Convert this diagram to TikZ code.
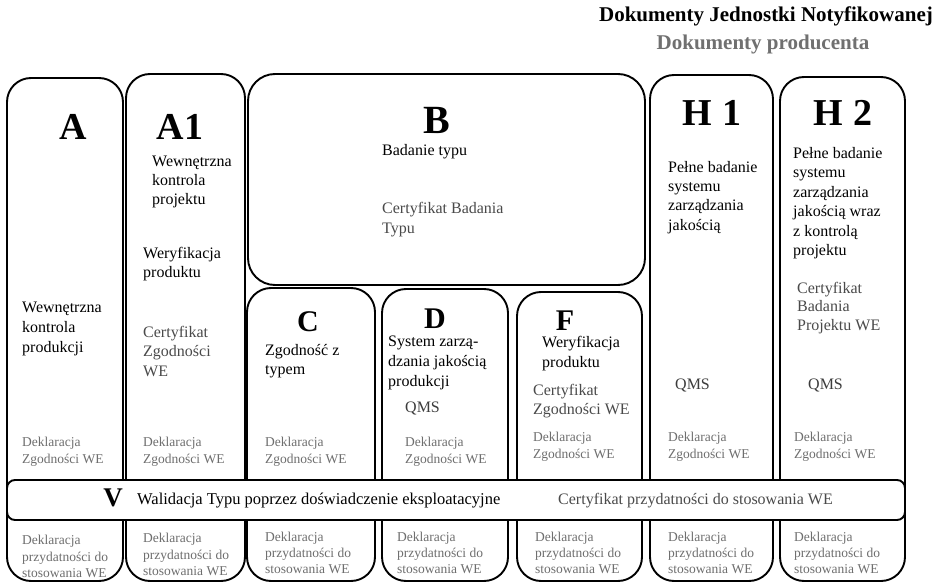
\documentclass[tikz,border=0pt]{standalone}
\usepackage{fontspec}
\setmainfont{Liberation Serif}
\definecolor{certgray}{HTML}{4A4A4A}
\definecolor{declgray}{HTML}{6E6E6E}
\definecolor{prodgray}{HTML}{707070}
\definecolor{qmsgray}{HTML}{3C3C3C}
\begin{document}
\begin{tikzpicture}[x=1pt,y=-1pt,
  colbox/.style={draw=black,line width=1.9pt,rounded corners=24pt,fill=white},
  bigl/.style={font=\fontsize{38}{40}\selectfont\bfseries,inner sep=0pt,anchor=center},
  midl/.style={font=\fontsize{30}{32}\selectfont\bfseries,inner sep=0pt,anchor=center},
  txt/.style={font=\fontsize{16}{19.5}\selectfont,align=left,anchor=north west,inner sep=0pt,yshift=6pt,text=black},
  cert/.style={txt,text=certgray},
  qms/.style={txt,text=qmsgray},
  decl/.style={font=\fontsize{13.5}{16.5}\selectfont,align=left,anchor=north west,inner sep=0pt,yshift=5pt,text=declgray},
  ttl/.style={font=\fontsize{21}{24}\selectfont\bfseries,inner sep=0pt,anchor=base}
]
\useasboundingbox[fill=white] (0,0) rectangle (940,583);

% title legend
\node[ttl,text=black] (t1) at (766,22) {Dokumenty Jednostki Notyfikowanej};
\node[ttl,text=prodgray] (t2) at (763,50) {Dokumenty producenta};

% column frames
\draw[colbox] (7,78) rectangle (123,581);
\draw[colbox] (126,74) rectangle (245,581);
\draw[colbox,rounded corners=27pt] (248,74) rectangle (645,285);
\draw[colbox] (247,288) rectangle (375,581);
\draw[colbox] (382,289) rectangle (508,581);
\draw[colbox] (517,292) rectangle (642,581);
\draw[colbox] (650,75) rectangle (773,581);
\draw[colbox] (780,77) rectangle (905,581);

% V bar
\draw[colbox,rounded corners=8pt] (7,480) rectangle (905,520);
\node[font=\fontsize{27}{29}\selectfont\bfseries,inner sep=0pt] (lV) at (113,498) {V};
\node[font=\fontsize{16.5}{19}\selectfont,anchor=base west,inner sep=0pt] (vT) at (137,504) {Walidacja Typu poprzez doświadczenie eksploatacyjne};
\node[font=\fontsize{16}{19}\selectfont,anchor=base west,inner sep=0pt,text=certgray] (vC) at (558,504) {Certyfikat przydatności do stosowania WE};

% A
\node[bigl] (lA) at (73,127) {A};
\node[txt,font=\fontsize{16}{20}\selectfont] (aT) at (22,308) {Wewnętrzna\\kontrola\\produkcji};
\node[decl] (aD) at (22,442) {Deklaracja\\Zgodności WE};
\node[decl] (aB) at (22,540) {Deklaracja\\przydatności do\\stosowania WE};

% A1
\node[bigl] (lA1) at (180,127) {A1};
\node[txt,font=\fontsize{16}{19}\selectfont] (a1T) at (152,162) {Wewnętrzna\\kontrola\\projektu};
\node[txt,font=\fontsize{16}{19}\selectfont] (a1V) at (143,253) {Weryfikacja\\produktu};
\node[cert,font=\fontsize{16}{19.5}\selectfont] (a1C) at (143,332) {Certyfikat\\Zgodności\\WE};
\node[decl] (a1D) at (143,442) {Deklaracja\\Zgodności WE};
\node[decl] (a1B) at (143,538) {Deklaracja\\przydatności do\\stosowania WE};

% B
\node[font=\fontsize{40}{42}\selectfont\bfseries,inner sep=0pt] (lB) at (437,120) {B};
\node[txt] (bT) at (382,150) {Badanie typu};
\node[cert,font=\fontsize{16}{20}\selectfont] (bC) at (382,208) {Certyfikat Badania\\Typu};

% C
\node[midl] (lC) at (308,322) {C};
\node[txt,font=\fontsize{16}{19}\selectfont] (cT) at (265,350) {Zgodność z\\typem};
\node[decl] (cD) at (265,442) {Deklaracja\\Zgodności WE};
\node[decl,font=\fontsize{13.5}{16}\selectfont] (cB) at (265,537) {Deklaracja\\przydatności do\\stosowania WE};

% D
\node[midl] (lD) at (435,319) {D};
\node[txt,font=\fontsize{16}{20}\selectfont] (dT) at (388,342) {System zarzą-\\dzania jakością\\produkcji};
\node[qms] (dQ) at (405,408) {QMS};
\node[decl] (dD) at (405,442) {Deklaracja\\Zgodności WE};
\node[decl,font=\fontsize{13.5}{16}\selectfont] (dB) at (397,537) {Deklaracja\\przydatności do\\stosowania WE};

% F
\node[midl] (lF) at (565,321) {F};
\node[txt,font=\fontsize{16}{20}\selectfont] (fT) at (542,342) {Weryfikacja\\produktu};
\node[cert,font=\fontsize{16}{19}\selectfont] (fC) at (533,390) {Certyfikat\\Zgodności WE};
\node[decl] (fD) at (533,437) {Deklaracja\\Zgodności WE};
\node[decl,font=\fontsize{13.5}{16}\selectfont] (fB) at (535,537) {Deklaracja\\przydatności do\\stosowania WE};

% H1
\node[bigl] (lH1) at (712,113) {H 1};
\node[txt,font=\fontsize{16}{19.3}\selectfont] (h1T) at (668,167) {Pełne badanie\\systemu\\zarządzania\\jakością};
\node[qms] (h1Q) at (675,385) {QMS};
\node[decl] (h1D) at (668,437) {Deklaracja\\Zgodności WE};
\node[decl,font=\fontsize{13.5}{16}\selectfont] (h1B) at (668,537) {Deklaracja\\przydatności do\\stosowania WE};

% H2
\node[bigl] (lH2) at (843,113) {H 2};
\node[txt,font=\fontsize{16}{19.5}\selectfont] (h2T) at (793,153) {Pełne badanie\\systemu\\zarządzania\\jakością wraz\\z kontrolą\\projektu};
\node[cert,font=\fontsize{16}{18.5}\selectfont] (h2C) at (797,288) {Certyfikat\\Badania\\Projektu WE};
\node[qms] (h2Q) at (808,385) {QMS};
\node[decl] (h2D) at (794,437) {Deklaracja\\Zgodności WE};
\node[decl,font=\fontsize{13.5}{16}\selectfont] (h2B) at (794,537) {Deklaracja\\przydatności do\\stosowania WE};
\end{tikzpicture}
\end{document}
